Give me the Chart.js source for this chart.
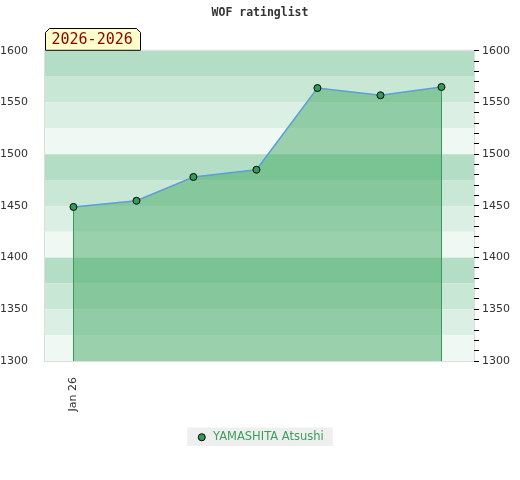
<!DOCTYPE html>
<html>
<head>
<meta charset="utf-8">
<script src="https://cdn.jsdelivr.net/npm/chart.js@4"></script>
<style>
  html, body { margin: 0; padding: 0; background: #fff; }
  #wrap { width: 520px; height: 480px; }
</style>
</head>
<body>
<div id="wrap"><canvas id="myChart"></canvas></div>
<script>
// rating history (one point per month)
const dates = ["2026-01-01", "2026-02-01", "2026-03-01", "2026-04-01", "2026-05-01", "2026-06-01", "2026-07-01"];
const ratings = [1449, 1455, 1478, 1485, 1564, 1557, 1565];
const playerName = "YAMASHITA Atsushi";
const chartTitle = "WOF ratinglist";
const periodLabel = "2026-2026";
const xTickDates = ["2026-01-01"];
const xTickLabels = ["Jan 26"];
const xRange = ["2025-12-18", "2026-07-17"];
const yMin = 1300;
const yMax = 1600;

const bandColors = ["#b3dec5", "#c9e7d5", "#dcefe5", "#eff8f3"];

const dayMs = 24 * 3600 * 1000;
const origin = Date.UTC(2026, 0, 1);
const toDay = (s) => {
  const p = s.split("-").map(Number);
  return (Date.UTC(p[0], p[1] - 1, p[2]) - origin) / dayMs;
};

const points = dates.map((d, i) => ({ x: toDay(d), y: ratings[i] }));

const bgPlugin = {
  id: "bg",
  beforeDraw: (chart) => {
    const ctx = chart.ctx;
    const a = chart.chartArea;
    const ys = chart.scales.y;
    ctx.save();
    ctx.fillStyle = "#fff";
    ctx.fillRect(0, 0, chart.width, chart.height);
    // horizontal bands, 25 rating points each
    for (let v = yMax, i = 0; v > yMin; v -= 25, i++) {
      const top = ys.getPixelForValue(v);
      const bot = ys.getPixelForValue(v - 25);
      ctx.fillStyle = bandColors[i % 4];
      ctx.fillRect(a.left, top, a.right - a.left, bot - top);
    }
    ctx.strokeStyle = "#dddddd";
    ctx.lineWidth = 1;
    ctx.strokeRect(a.left - 0.5, a.top - 0.5, a.right - a.left + 1, a.bottom - a.top + 1);

    // legend background
    const lg = chart.legend;
    if (lg && lg.legendHitBoxes && lg.legendHitBoxes.length) {
      const hb = lg.legendHitBoxes[0];
      ctx.fillStyle = "#efefef";
      ctx.fillRect(hb.left - 9, hb.top - 4, hb.width + 18, hb.height + 7);
    }
    ctx.restore();
  },
  afterDatasetsDraw: (chart) => {
    const ctx = chart.ctx;
    const a = chart.chartArea;
    const meta = chart.getDatasetMeta(0);
    const first = meta.data[0];
    const last = meta.data[meta.data.length - 1];
    ctx.save();
    ctx.strokeStyle = "#3a9a5a";
    ctx.lineWidth = 1;
    [first, last].forEach((pt) => {
      const x = Math.round(pt.x) + 0.5;
      ctx.beginPath();
      ctx.moveTo(x, pt.y + 4);
      ctx.lineTo(x, a.bottom);
      ctx.stroke();
    });
    ctx.restore();
  },
  afterDraw: (chart) => {
    // period tag above the plot
    const ctx = chart.ctx;
    const a = chart.chartArea;
    const l = a.left + 0.5, r = a.left + 95.5, t = 28.5, b = a.top - 0.5, c = 4;
    ctx.save();
    ctx.beginPath();
    ctx.moveTo(l, b);
    ctx.lineTo(l, t + c);
    ctx.lineTo(l + c, t);
    ctx.lineTo(r - c, t);
    ctx.lineTo(r, t + c);
    ctx.lineTo(r, b);
    ctx.closePath();
    ctx.fillStyle = "#ffffcc";
    ctx.fill();
    ctx.strokeStyle = "#000";
    ctx.lineWidth = 1;
    ctx.stroke();
    ctx.fillStyle = "#8b0000";
    ctx.font = "15px 'DejaVu Sans Mono'";
    ctx.textBaseline = "middle";
    ctx.textAlign = "left";
    ctx.fillText(periodLabel, l + 6, (t + b) / 2 + 1);
    ctx.restore();
  },
};

const ctx = document.getElementById("myChart").getContext("2d");
const myChart = new Chart(ctx, {
  type: "line",
  data: {
    datasets: [
      {
        label: playerName,
        data: points,
        borderColor: "#5b9fd6",
        borderWidth: 1.5,
        backgroundColor: "rgba(54, 163, 89, 0.46)",
        fill: "start",
        tension: 0,
        pointRadius: 3.5,
        pointBackgroundColor: "#2f9e58",
        pointBorderColor: "#000",
        pointBorderWidth: 1,
      },
    ],
  },
  options: {
    responsive: true,
    maintainAspectRatio: false,
    animation: false,
    devicePixelRatio: 1,
    layout: { padding: { top: 0, bottom: 27, left: 0, right: 0 } },
    plugins: {
      title: {
        display: true,
        text: chartTitle,
        color: "#333",
        font: { family: "'DejaVu Sans Mono'", size: 11.5, weight: "bold" },
        padding: { top: 6, bottom: 31 },
      },
      legend: {
        position: "bottom",
        labels: {
          usePointStyle: true,
          pointStyle: "circle",
          boxWidth: 11,
          boxHeight: 5,
          color: "#3aa05a",
          font: { family: "'DejaVu Sans'", size: 11.5 },
          padding: 12,
        },
      },
      tooltip: { enabled: false },
    },
    scales: {
      x: {
        type: "linear",
        min: toDay(xRange[0]),
        max: toDay(xRange[1]),
        grid: { display: false },
        border: { display: false },
        afterBuildTicks: (scale) => {
          scale.ticks = xTickDates.map((d) => ({ value: toDay(d) }));
        },
        ticks: {
          minRotation: 90,
          maxRotation: 90,
          color: "#333",
          font: { family: "'DejaVu Sans'", size: 11 },
          padding: 8,
          callback: (v) => {
            const i = xTickDates.findIndex((d) => toDay(d) === v);
            return i >= 0 ? xTickLabels[i] : "";
          },
        },
      },
      y: {
        position: "left",
        min: yMin,
        max: yMax,
        grid: { display: false },
        border: { display: false },
        ticks: {
          stepSize: 50,
          color: "#333",
          font: { family: "'DejaVu Sans'", size: 11 },
          padding: 9,
          callback: (v) => String(v),
        },
        afterFit: (scale) => {
          scale.width = 45;
        },
      },
      y2: {
        position: "right",
        min: yMin,
        max: yMax,
        grid: {
          drawOnChartArea: false,
          drawTicks: true,
          tickLength: 5,
          color: "#000",
        },
        border: { display: false },
        ticks: {
          stepSize: 10,
          autoSkip: false,
          color: "#333",
          font: { family: "'DejaVu Sans'", size: 11 },
          padding: 3,
          callback: (v) => (v % 50 === 0 ? String(v) : ""),
        },
        afterFit: (scale) => {
          scale.width = 46;
        },
      },
    },
  },
  plugins: [bgPlugin],
});
</script>
</body>
</html>
